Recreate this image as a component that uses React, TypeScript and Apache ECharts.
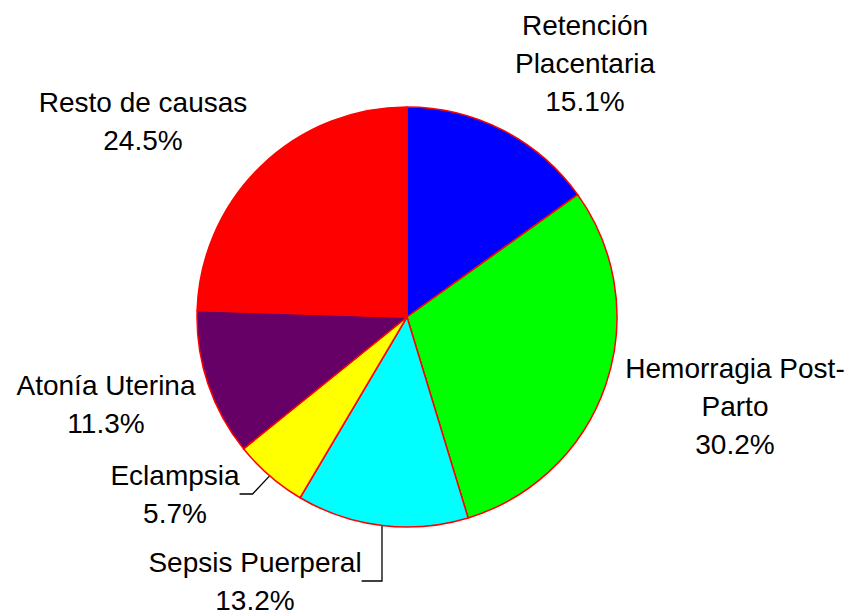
import React, { useEffect, useRef } from 'react';
import * as echarts from 'echarts';

const categories = [
  'Retención Placentaria',
  'Hemorragia Post-Parto',
  'Sepsis Puerperal',
  'Eclampsia',
  'Atonía Uterina',
  'Resto de causas',
];
const labelTexts = [
  'Retención\nPlacentaria',
  'Hemorragia Post-\nParto',
  'Sepsis Puerperal',
  'Eclampsia',
  'Atonía Uterina',
  'Resto de causas',
];
const percentages = [15.1, 30.2, 13.2, 5.7, 11.3, 24.5];
const sliceColors = ['#0000FF', '#00FF00', '#00FFFF', '#FFFF00', '#660066', '#FF0000'];
const showLeader = [false, false, true, true, false, false];
const leaderLength2 = [12, 12, 22, 13, 12, 12];

// label layout (centres of label blocks, in px)
const labelCenters: [number, number][] = [
  [585, 63],
  [735, 406],
  [255, 581],
  [175, 494],
  [106, 404],
  [143, 121],
];

export default function App() {
  const ref = useRef<HTMLDivElement>(null);

  useEffect(() => {
    if (!ref.current) return;
    const chart = echarts.init(ref.current, undefined, { renderer: 'svg' });
    const data = categories.map((name, i) => ({
      name,
      value: percentages[i],
      itemStyle: { color: sliceColors[i] },
      labelLine: { show: showLeader[i], length2: leaderLength2[i] },
    }));
    chart.setOption({
      animation: false,
      backgroundColor: '#FFFFFF',
      series: [
        {
          type: 'pie',
          center: [407, 317],
          radius: 210,
          startAngle: 90,
          clockwise: true,
          avoidLabelOverlap: false,
          emphasis: { disabled: true },
          itemStyle: { borderColor: '#FF0000', borderWidth: 1.5 },
          label: {
            show: true,
            position: 'outside',
            formatter: (p: any) => labelTexts[p.dataIndex] + '\n' + Number(p.value).toFixed(1) + '%',
            color: '#000000',
            fontSize: 28,
            lineHeight: 38,
            fontFamily: '"Liberation Sans", Arial, sans-serif',
            align: 'center',
          },
          labelLine: {
            show: false,
            length: 12,
            length2: 12,
            lineStyle: { color: '#000000', width: 1.3 },
          },
          labelLayout: (params: any) => ({
            x: labelCenters[params.dataIndex][0],
            y: labelCenters[params.dataIndex][1],
            align: 'center',
            verticalAlign: 'middle',
          }),
          data,
        },
      ],
    });
    return () => chart.dispose();
  }, []);

  return (
    <div
      ref={ref}
      style={{ position: 'fixed', left: 0, top: 0, width: 854, height: 615 }}
    />
  );
}
